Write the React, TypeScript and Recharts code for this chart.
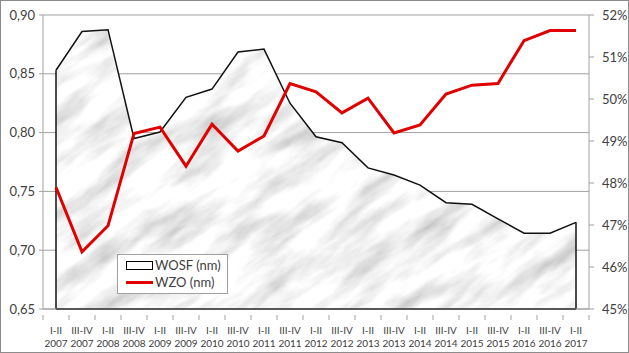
import React from "react";
import {
  ComposedChart,
  Area,
  Line,
  XAxis,
  YAxis,
  CartesianGrid,
  ReferenceLine,
} from "recharts";

const categories = [
  "I-II 2007", "III-IV 2007", "I-II 2008", "III-IV 2008", "I-II 2009", "III-IV 2009",
  "I-II 2010", "III-IV 2010", "I-II 2011", "III-IV 2011", "I-II 2012", "III-IV 2012",
  "I-II 2013", "III-IV 2013", "I-II 2014", "III-IV 2014", "I-II 2015", "III-IV 2015",
  "I-II 2016", "III-IV 2016", "I-II 2017",
];

// WOSF (nm), left axis
const wosf = [
  0.853, 0.886, 0.8875, 0.795, 0.8005, 0.83, 0.837, 0.8685, 0.871, 0.825, 0.7965,
  0.7914, 0.77, 0.764, 0.7554, 0.7404, 0.739, 0.7267, 0.7144, 0.7144, 0.7237,
];

// WZO (nm), right axis, percent
const wzo = [
  47.9, 46.36, 46.98, 49.18, 49.33, 48.4, 49.4, 48.76, 49.12, 50.37, 50.17,
  49.67, 50.02, 49.19, 49.38, 50.12, 50.33, 50.37, 51.39, 51.63, 51.63,
];

const leftTicks = [0.65, 0.7, 0.75, 0.8, 0.85, 0.9];
const rightTicks = [45, 46, 47, 48, 49, 50, 51, 52];

const data = categories.map((name, i) => ({ name, wosf: wosf[i], wzo: wzo[i] }));

const W = 629;
const H = 353;
const PLOT_W = W - 43 - 40;
const BAND = PLOT_W / categories.length;
const FONT = "Lato, 'Open Sans', sans-serif";
const TEXT = "#404040";
const AXIS = "#a0a0a0";

// two-line category label + Excel-style tick mark between categories
const CatTick = (props: any) => {
  const { x, y, payload, index } = props;
  const [a, b] = String(payload.value).split(" ");
  return (
    <g>
      <line x1={x - BAND / 2} x2={x - BAND / 2} y1={y - 2} y2={y + 3} stroke={AXIS} />
      {index === categories.length - 1 && (
        <line x1={x + BAND / 2} x2={x + BAND / 2} y1={y - 2} y2={y + 3} stroke={AXIS} />
      )}
      <text x={x} y={y + 17} textAnchor="middle" fontSize={10} fill={TEXT} fontFamily={FONT}>
        {a}
      </text>
      <text x={x} y={y + 30} textAnchor="middle" fontSize={10} fill={TEXT} fontFamily={FONT}>
        {b}
      </text>
    </g>
  );
};

const LegendBox = () => (
  <div
    style={{
      position: "absolute",
      left: 116,
      top: 253,
      width: 111,
      height: 40,
      boxSizing: "border-box",
      border: "1px solid #a0a0a0",
      background: "#fff",
      fontFamily: FONT,
      fontSize: 13,
      color: TEXT,
      padding: "2px 0 0 8px",
      lineHeight: "17px",
    }}
  >
    <div style={{ display: "flex", alignItems: "center" }}>
      <span
        style={{
          display: "inline-block",
          width: 25,
          height: 7,
          border: "1px solid #000",
          background: "#fff",
          marginRight: 2,
        }}
      />
      WOSF (nm)
    </div>
    <div style={{ display: "flex", alignItems: "center" }}>
      <span
        style={{
          display: "inline-block",
          width: 27,
          height: 3,
          background: "#e00000",
          marginRight: 2,
        }}
      />
      WZO (nm)
    </div>
  </div>
);

export default function App() {
  return (
    <div
      style={{
        position: "absolute",
        left: 0,
        top: 0,
        width: W,
        height: H,
        boxSizing: "border-box",
        border: "1px solid #8c8c8c",
        background: "#fff",
        overflow: "hidden",
      }}
    >
      <div style={{ position: "absolute", left: -1, top: -1 }}>
        <ComposedChart
          width={W}
          height={H}
          data={data}
          margin={{ top: 15, right: 0, bottom: 0, left: 0 }}
        >
          <defs>
            <filter id="marbleNoise" x="0" y="0" width="100%" height="100%">
              <feTurbulence
                type="fractalNoise"
                baseFrequency="0.014 0.05"
                numOctaves={5}
                seed={11}
              />
              <feColorMatrix
                type="matrix"
                values="0.9 0 0 0 0.46  0.9 0 0 0 0.46  0.9 0 0 0 0.46  0 0 0 0 1"
              />
            </filter>
            {/* one big tile so the whole plot sits inside it, no seams */}
            <pattern
              id="marble"
              patternUnits="userSpaceOnUse"
              x={-300}
              y={-100}
              width={1000}
              height={900}
              patternTransform="rotate(-35)"
            >
              <rect
                x={-300}
                y={-100}
                width={1000}
                height={900}
                fill="#eee"
                filter="url(#marbleNoise)"
              />
            </pattern>
          </defs>
          <CartesianGrid vertical={false} stroke={AXIS} yAxisId="left" />
          <XAxis
            dataKey="name"
            height={44}
            interval={0}
            padding={{ left: BAND / 2, right: BAND / 2 }}
            tick={<CatTick />}
            tickLine={false}
            axisLine={{ stroke: AXIS }}
          />
          <YAxis
            yAxisId="left"
            width={43}
            domain={[0.65, 0.9]}
            ticks={leftTicks}
            tickFormatter={(v: number) => v.toFixed(2).replace(".", ",")}
            tick={{ fontSize: 13, fill: TEXT, fontFamily: FONT }}
            tickSize={4}
            tickMargin={4}
            tickLine={{ stroke: AXIS }}
            axisLine={{ stroke: AXIS }}
          />
          <YAxis
            yAxisId="right"
            orientation="right"
            width={40}
            domain={[45, 52]}
            ticks={rightTicks}
            tickFormatter={(v: number) => `${v}%`}
            tick={{ fontSize: 13, fill: TEXT, fontFamily: FONT, textAnchor: "start" }}
            tickSize={5}
            tickMargin={8}
            tickLine={{ stroke: AXIS }}
            axisLine={{ stroke: AXIS }}
          />
          <Area
            yAxisId="left"
            type="linear"
            dataKey="wosf"
            name="WOSF (nm)"
            baseValue={0.65}
            fill="url(#marble)"
            fillOpacity={1}
            stroke="#111"
            strokeWidth={1.5}
            dot={false}
            activeDot={false}
            isAnimationActive={false}
          />
          <ReferenceLine
            yAxisId="left"
            segment={[
              { x: categories[0], y: 0.65 },
              { x: categories[0], y: wosf[0] },
            ]}
            stroke="#111"
            strokeWidth={1.5}
          />
          <ReferenceLine
            yAxisId="left"
            segment={[
              { x: categories[categories.length - 1], y: 0.65 },
              { x: categories[categories.length - 1], y: wosf[wosf.length - 1] },
            ]}
            stroke="#111"
            strokeWidth={1.5}
          />
          <ReferenceLine
            yAxisId="left"
            segment={[
              { x: categories[0], y: 0.65 },
              { x: categories[categories.length - 1], y: 0.65 },
            ]}
            stroke="#111"
            strokeWidth={2}
          />
          <Line
            yAxisId="right"
            type="linear"
            dataKey="wzo"
            name="WZO (nm)"
            stroke="#e00000"
            strokeWidth={3}
            dot={false}
            activeDot={false}
            isAnimationActive={false}
          />
        </ComposedChart>
      </div>
      <LegendBox />
    </div>
  );
}
